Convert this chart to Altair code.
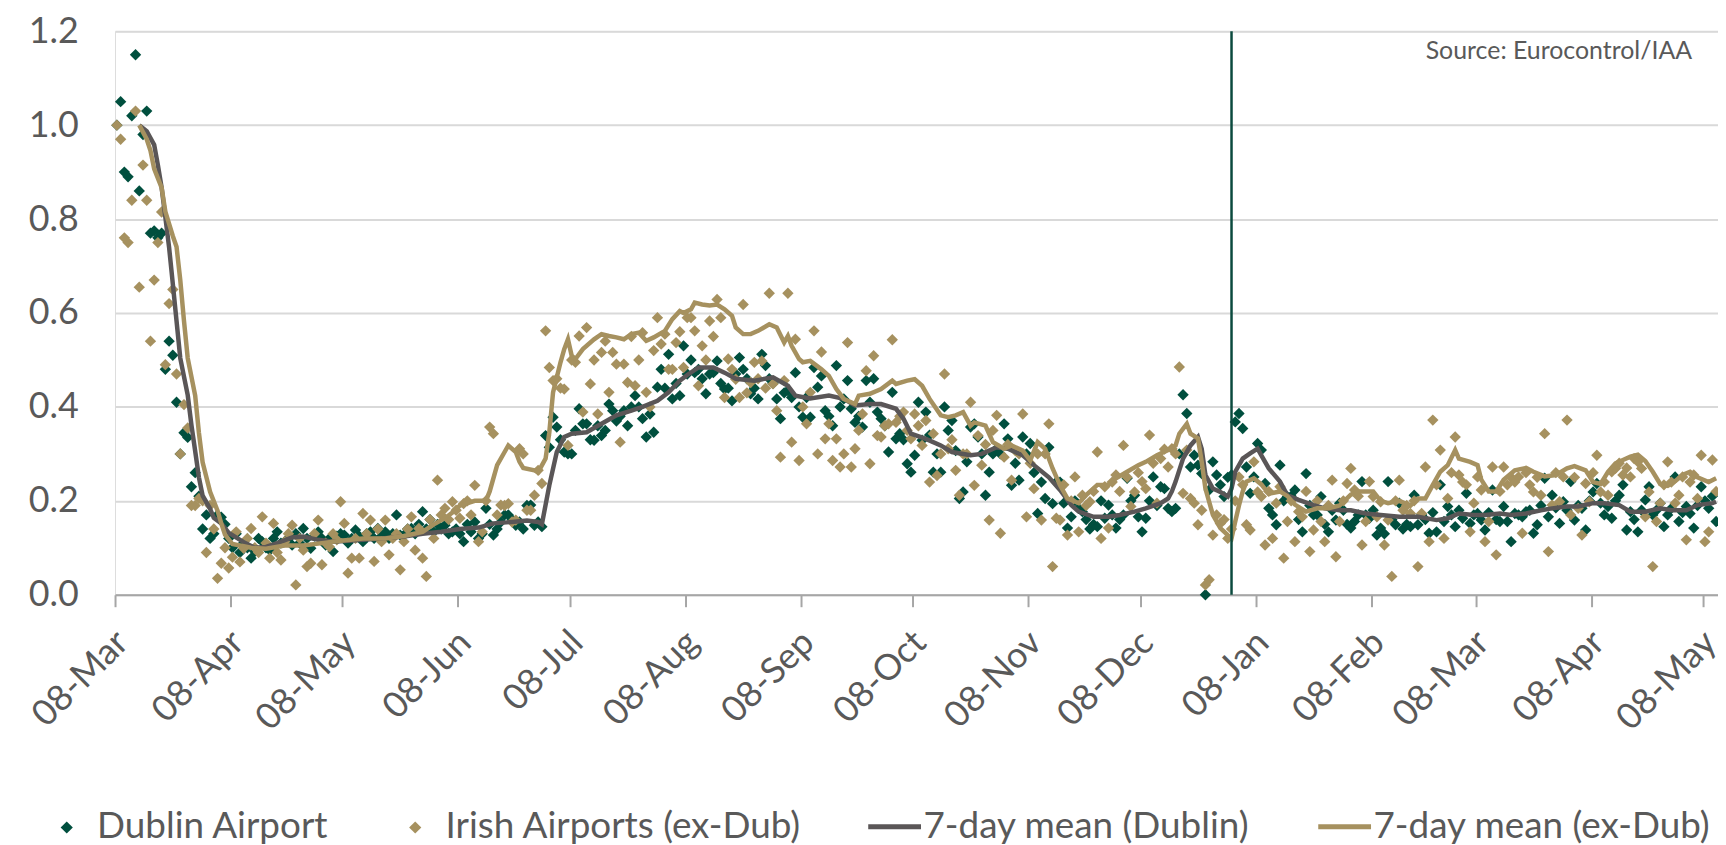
import altair as alt
import pandas as pd

# ---------------- data ----------------
# daily load factor vs 2019, day 0 = 08-Mar-2020
dublin_daily = [
    1.00, 1.05, 0.90, 0.89, 1.02, 1.15, 0.86,
    0.98, 1.03, 0.77, 0.775, 0.76, 0.77, 0.48,
    0.54, 0.51, 0.41, 0.30, 0.345, 0.335, 0.23,
    0.26, 0.21, 0.14, 0.17, 0.12, 0.13, 0.17,
    0.165, 0.15, 0.12, 0.10, 0.13, 0.09, 0.11,
    0.10, 0.078, 0.092, 0.12, 0.113, 0.10, 0.095,
    0.12, 0.134, 0.11, 0.113, 0.12, 0.106, 0.13,
    0.11, 0.141, 0.12, 0.099, 0.125, 0.134, 0.12,
    0.106, 0.12, 0.092, 0.125, 0.13, 0.127, 0.11,
    0.12, 0.138, 0.125, 0.113, 0.13, 0.134, 0.12,
    0.141, 0.125, 0.134, 0.12, 0.13, 0.17, 0.127,
    0.127, 0.14, 0.141, 0.13, 0.15, 0.177, 0.14,
    0.16, 0.134, 0.15, 0.14, 0.148, 0.13, 0.134,
    0.14, 0.13, 0.113, 0.15, 0.134, 0.155, 0.12,
    0.13, 0.184, 0.15, 0.127, 0.14, 0.155, 0.17,
    0.17, 0.16, 0.148, 0.155, 0.14, 0.19, 0.191,
    0.148, 0.155, 0.145, 0.339, 0.314, 0.378, 0.357,
    0.33, 0.304, 0.30, 0.30, 0.35, 0.396, 0.364,
    0.364, 0.33, 0.329, 0.36, 0.339, 0.35, 0.406,
    0.392, 0.37, 0.38, 0.392, 0.36, 0.40, 0.424,
    0.40, 0.375, 0.336, 0.385, 0.346, 0.442, 0.48,
    0.44, 0.512, 0.417, 0.45, 0.424, 0.53, 0.47,
    0.50, 0.473, 0.48, 0.46, 0.428, 0.47, 0.473,
    0.498, 0.45, 0.438, 0.44, 0.413, 0.47, 0.505,
    0.48, 0.46, 0.428, 0.44, 0.417, 0.512, 0.488,
    0.46, 0.45, 0.417, 0.375, 0.43, 0.435, 0.42,
    0.473, 0.40, 0.378, 0.42, 0.378, 0.484, 0.442,
    0.466, 0.392, 0.38, 0.36, 0.488, 0.40, 0.417,
    0.456, 0.396, 0.367, 0.38, 0.357, 0.456, 0.41,
    0.46, 0.389, 0.375, 0.36, 0.304, 0.431, 0.332,
    0.343, 0.33, 0.279, 0.261, 0.297, 0.41, 0.329,
    0.389, 0.34, 0.261, 0.30, 0.261, 0.40, 0.35,
    0.371, 0.307, 0.205, 0.219, 0.283, 0.357, 0.364,
    0.336, 0.30, 0.212, 0.261, 0.30, 0.311, 0.30,
    0.364, 0.332, 0.233, 0.28, 0.244, 0.336, 0.30,
    0.322, 0.26, 0.173, 0.24, 0.205, 0.314, 0.194,
    0.24, 0.24, 0.195, 0.142, 0.166, 0.20, 0.184,
    0.177, 0.16, 0.14, 0.15, 0.145, 0.20, 0.163,
    0.191, 0.17, 0.142, 0.16, 0.17, 0.248, 0.20,
    0.212, 0.166, 0.134, 0.163, 0.20, 0.251, 0.19,
    0.23, 0.226, 0.184, 0.177, 0.184, 0.30, 0.426,
    0.386, 0.272, 0.297, 0.276, 0.258, 0.0, 0.223,
    0.283, 0.255, 0.234, 0.209, 0.25, 0.255, 0.368,
    0.386, 0.354, 0.272, 0.216, 0.251, 0.322, 0.308,
    0.237, 0.184, 0.17, 0.149, 0.276, 0.20, 0.209,
    0.21, 0.223, 0.16, 0.134, 0.258, 0.19, 0.17,
    0.17, 0.209, 0.15, 0.134, 0.18, 0.159, 0.195,
    0.18, 0.15, 0.142, 0.156, 0.17, 0.241, 0.17,
    0.163, 0.18, 0.127, 0.142, 0.13, 0.241, 0.16,
    0.149, 0.195, 0.14, 0.15, 0.145, 0.212, 0.149,
    0.17, 0.16, 0.131, 0.175, 0.134, 0.234, 0.156,
    0.188, 0.17, 0.145, 0.18, 0.163, 0.216, 0.152,
    0.17, 0.173, 0.159, 0.138, 0.175, 0.223, 0.16,
    0.156, 0.188, 0.156, 0.113, 0.173, 0.17, 0.166,
    0.177, 0.18, 0.131, 0.149, 0.19, 0.248, 0.166,
    0.212, 0.185, 0.152, 0.198, 0.18, 0.241, 0.159,
    0.19, 0.184, 0.138, 0.20, 0.219, 0.237, 0.195,
    0.17, 0.188, 0.163, 0.20, 0.212, 0.234, 0.138,
    0.177, 0.16, 0.134, 0.18, 0.202, 0.23, 0.17,
    0.18, 0.195, 0.145, 0.17, 0.184, 0.251, 0.156,
    0.175, 0.188, 0.173, 0.142, 0.19, 0.23, 0.20,
    0.184, 0.21, 0.156,
]

exdub_daily = [
    1.00, 0.97, 0.76, 0.75, 0.84, 1.03, 0.655,
    0.915, 0.84, 0.54, 0.67, 0.75, 0.815, 0.49,
    0.62, 0.65, 0.47, 0.30, 0.405, 0.355, 0.19,
    0.19, 0.205, 0.20, 0.09, 0.19, 0.14, 0.035,
    0.067, 0.10, 0.057, 0.08, 0.134, 0.07, 0.099,
    0.12, 0.141, 0.10, 0.09, 0.166, 0.11, 0.078,
    0.152, 0.09, 0.074, 0.113, 0.13, 0.148, 0.021,
    0.12, 0.095, 0.06, 0.067, 0.13, 0.159, 0.064,
    0.11, 0.102, 0.13, 0.117, 0.198, 0.152, 0.046,
    0.078, 0.12, 0.078, 0.173, 0.13, 0.159, 0.071,
    0.14, 0.113, 0.159, 0.085, 0.12, 0.13, 0.053,
    0.113, 0.14, 0.166, 0.095, 0.141, 0.078, 0.039,
    0.16, 0.12, 0.244, 0.17, 0.184, 0.16, 0.198,
    0.18, 0.163, 0.194, 0.20, 0.17, 0.233, 0.113,
    0.134, 0.20, 0.357, 0.343, 0.17, 0.191, 0.19,
    0.194, 0.155, 0.159, 0.311, 0.30, 0.18, 0.18,
    0.212, 0.265, 0.237, 0.562, 0.484, 0.456, 0.46,
    0.44, 0.438, 0.318, 0.50, 0.495, 0.551, 0.389,
    0.569, 0.449, 0.50, 0.385, 0.516, 0.54, 0.431,
    0.516, 0.491, 0.325, 0.491, 0.452, 0.55, 0.445,
    0.50, 0.558, 0.431, 0.40, 0.52, 0.59, 0.534,
    0.555, 0.48, 0.48, 0.537, 0.56, 0.484, 0.59,
    0.59, 0.562, 0.445, 0.53, 0.50, 0.583, 0.55,
    0.629, 0.59, 0.42, 0.502, 0.48, 0.459, 0.42,
    0.618, 0.43, 0.452, 0.495, 0.46, 0.498, 0.44,
    0.642, 0.449, 0.392, 0.293, 0.456, 0.642, 0.325,
    0.544, 0.286, 0.40, 0.364, 0.431, 0.562, 0.30,
    0.517, 0.332, 0.364, 0.286, 0.332, 0.272, 0.30,
    0.537, 0.272, 0.311, 0.35, 0.385, 0.477, 0.279,
    0.509, 0.339, 0.336, 0.36, 0.364, 0.543, 0.367,
    0.38, 0.389, 0.35, 0.332, 0.385, 0.36, 0.318,
    0.371, 0.24, 0.343, 0.254, 0.30, 0.47, 0.311,
    0.33, 0.265, 0.212, 0.30, 0.30, 0.41, 0.233,
    0.339, 0.276, 0.32, 0.159, 0.35, 0.382, 0.131,
    0.293, 0.32, 0.244, 0.307, 0.30, 0.385, 0.166,
    0.28, 0.226, 0.30, 0.159, 0.30, 0.364, 0.06,
    0.163, 0.159, 0.234, 0.127, 0.20, 0.251, 0.134,
    0.212, 0.19, 0.198, 0.22, 0.304, 0.12, 0.23,
    0.142, 0.24, 0.255, 0.22, 0.318, 0.25, 0.188,
    0.219, 0.26, 0.241, 0.226, 0.34, 0.28, 0.195,
    0.29, 0.31, 0.272, 0.311, 0.30, 0.485, 0.216,
    0.308, 0.205, 0.195, 0.149, 0.18, 0.021, 0.032,
    0.127, 0.17, 0.152, 0.16, 0.12, 0.14, 0.20,
    0.251, 0.234, 0.149, 0.138, 0.283, 0.219, 0.209,
    0.106, 0.22, 0.12, 0.195, 0.23, 0.078, 0.156,
    0.20, 0.113, 0.177, 0.166, 0.22, 0.092, 0.138,
    0.20, 0.156, 0.113, 0.19, 0.244, 0.081, 0.156,
    0.20, 0.237, 0.269, 0.223, 0.21, 0.106, 0.156,
    0.241, 0.209, 0.166, 0.198, 0.106, 0.159, 0.039,
    0.20, 0.244, 0.18, 0.19, 0.173, 0.20, 0.06,
    0.173, 0.272, 0.113, 0.372, 0.234, 0.308, 0.12,
    0.205, 0.26, 0.336, 0.255, 0.24, 0.234, 0.134,
    0.195, 0.251, 0.223, 0.113, 0.156, 0.272, 0.085,
    0.22, 0.272, 0.234, 0.25, 0.24, 0.251, 0.131,
    0.26, 0.234, 0.219, 0.25, 0.212, 0.343, 0.092,
    0.191, 0.26, 0.198, 0.251, 0.372, 0.17, 0.25,
    0.184, 0.127, 0.237, 0.198, 0.26, 0.297, 0.219,
    0.24, 0.212, 0.262, 0.269, 0.28, 0.255, 0.27,
    0.251, 0.29, 0.283, 0.269, 0.166, 0.219, 0.06,
    0.156, 0.195, 0.234, 0.283, 0.24, 0.195, 0.212,
    0.251, 0.117, 0.24, 0.255, 0.205, 0.297, 0.113,
    0.134, 0.287, 0.22,
]

# 7-day means (day offset, value)
dub_mean_day = [6, 8, 10, 11, 12, 13, 14, 15, 16, 17, 19, 20, 21, 22, 23, 25, 26, 28, 30, 34,
                37, 40, 43, 47, 50, 54, 58, 62, 66, 71, 77, 82, 87, 92, 97, 101, 106, 110, 113, 114,
                116, 118, 120, 122, 126, 130, 134, 138, 141, 145, 148, 151, 153, 156, 160, 163, 166, 171, 176, 180,
                182, 186, 191, 195, 198, 202, 205, 209, 211, 213, 217, 221, 224, 229, 232, 236, 239, 243, 246, 250,
                253, 256, 258, 262, 266, 269, 273, 276, 280, 282, 283, 284, 286, 288, 290, 291, 292, 294, 296, 298,
                299, 300, 302, 304, 306, 307, 309, 312, 314, 317, 321, 324, 328, 331, 335, 339, 344, 349, 354, 357,
                360, 364, 367, 371, 374, 378, 382, 385, 389, 392, 396, 399, 403, 406, 410, 414, 417, 421, 424, 428,
                429]
dub_mean_val = [1.00, 0.987, 0.958, 0.915, 0.867, 0.804, 0.74, 0.662, 0.583, 0.504, 0.425, 0.361, 0.306, 0.25, 0.211, 0.183, 0.164, 0.152, 0.132, 0.112,
                0.10, 0.102, 0.11, 0.122, 0.124, 0.117, 0.113, 0.115, 0.117, 0.12, 0.124, 0.13, 0.134, 0.14, 0.143, 0.152, 0.155, 0.158, 0.155, 0.15,
                0.233, 0.304, 0.336, 0.343, 0.346, 0.364, 0.382, 0.392, 0.40, 0.413, 0.431, 0.456, 0.468, 0.484, 0.484, 0.473, 0.46, 0.456, 0.463, 0.445,
                0.424, 0.418, 0.424, 0.417, 0.403, 0.406, 0.406, 0.396, 0.375, 0.343, 0.332, 0.318, 0.304, 0.297, 0.30, 0.314, 0.311, 0.297, 0.276, 0.25,
                0.223, 0.191, 0.177, 0.166, 0.166, 0.17, 0.177, 0.184, 0.195, 0.205, 0.22, 0.241, 0.29, 0.318, 0.336, 0.311, 0.255, 0.226, 0.219, 0.209,
                0.226, 0.262, 0.29, 0.301, 0.311, 0.297, 0.269, 0.241, 0.212, 0.202, 0.191, 0.184, 0.18, 0.18, 0.173, 0.17, 0.166, 0.166, 0.159, 0.163,
                0.173, 0.17, 0.17, 0.173, 0.17, 0.173, 0.18, 0.184, 0.188, 0.188, 0.195, 0.195, 0.191, 0.177, 0.177, 0.184, 0.18, 0.18, 0.191, 0.195,
                0.198]

exd_mean_day = [6, 8, 9, 10, 12, 13, 15, 16, 17, 18, 19, 21, 22, 23, 25, 27, 28, 29, 31, 36,
                40, 45, 50, 55, 60, 66, 72, 77, 82, 85, 88, 90, 92, 96, 99, 100, 102, 104, 105, 107,
                108, 109, 112, 113, 115, 116, 117, 119, 120, 121, 122, 123, 125, 128, 130, 132, 134, 136, 138, 140,
                142, 144, 147, 149, 151, 152, 154, 155, 157, 159, 161, 163, 165, 166, 168, 170, 172, 175, 177, 179,
                180, 181, 183, 184, 186, 189, 191, 193, 195, 198, 199, 202, 205, 208, 209, 212, 214, 216, 218, 221,
                223, 225, 227, 229, 230, 233, 235, 238, 240, 243, 245, 247, 249, 251, 253, 255, 258, 260, 263, 266,
                268, 271, 274, 276, 279, 282, 284, 285, 287, 288, 290, 291, 292, 294, 296, 298, 299, 300, 301, 302,
                303, 305, 307, 309, 312, 314, 316, 319, 322, 325, 328, 331, 333, 335, 337, 339, 341, 344, 347, 349,
                351, 353, 355, 357, 359, 360, 363, 365, 366, 368, 370, 372, 375, 378, 380, 383, 386, 389, 391, 394,
                396, 398, 400, 402, 404, 406, 408, 410, 412, 414, 416, 418, 420, 422, 424, 427, 429]
exd_mean_val = [1.00, 0.97, 0.946, 0.907, 0.867, 0.816, 0.764, 0.741, 0.67, 0.583, 0.504, 0.424, 0.345, 0.282, 0.219, 0.179, 0.152, 0.128, 0.108, 0.10,
                0.098, 0.105, 0.105, 0.11, 0.115, 0.12, 0.12, 0.125, 0.134, 0.15, 0.163, 0.175, 0.19, 0.20, 0.20, 0.22, 0.276, 0.304, 0.318, 0.304,
                0.283, 0.27, 0.265, 0.261, 0.29, 0.346, 0.431, 0.495, 0.523, 0.544, 0.509, 0.502, 0.523, 0.544, 0.555, 0.551, 0.548, 0.544, 0.555, 0.558,
                0.541, 0.548, 0.562, 0.587, 0.604, 0.60, 0.608, 0.622, 0.618, 0.616, 0.618, 0.608, 0.594, 0.569, 0.555, 0.555, 0.562, 0.576, 0.569, 0.537,
                0.551, 0.53, 0.502, 0.495, 0.498, 0.48, 0.466, 0.438, 0.417, 0.406, 0.424, 0.428, 0.438, 0.456, 0.449, 0.456, 0.459, 0.445, 0.417, 0.382,
                0.378, 0.382, 0.389, 0.36, 0.367, 0.36, 0.325, 0.311, 0.318, 0.307, 0.286, 0.325, 0.311, 0.269, 0.233, 0.205, 0.195, 0.212, 0.234, 0.234,
                0.248, 0.262, 0.276, 0.283, 0.297, 0.308, 0.318, 0.343, 0.364, 0.343, 0.333, 0.283, 0.226, 0.17, 0.142, 0.127, 0.12, 0.156, 0.19, 0.22,
                0.241, 0.248, 0.235, 0.215, 0.22, 0.21, 0.192, 0.177, 0.184, 0.184, 0.19, 0.213, 0.22, 0.22, 0.22, 0.20, 0.195, 0.20, 0.19, 0.205,
                0.205, 0.234, 0.262, 0.276, 0.308, 0.29, 0.283, 0.276, 0.245, 0.22, 0.22, 0.245, 0.265, 0.27, 0.262, 0.252, 0.255, 0.269, 0.274, 0.265,
                0.24, 0.236, 0.262, 0.28, 0.287, 0.294, 0.298, 0.285, 0.262, 0.236, 0.232, 0.242, 0.255, 0.262, 0.25, 0.24, 0.248]

point_series = ["Dublin Airport", "Irish Airports (ex-Dub)"]
point_colors = ["#004F3E", "#A6915F"]
mean_series = ["7-day mean (Dublin)", "7-day mean (ex-Dub)"]
mean_colors = ["#5A5657", "#A6915F"]
tick_months = [(2020, m) for m in range(3, 13)] + [(2021, m) for m in range(1, 6)]
y_ticks = [0.0, 0.2, 0.4, 0.6, 0.8, 1.0, 1.2]
source_note = "Source: Eurocontrol/IAA"

# ---------------- build tables ----------------
start = pd.Timestamp("2020-03-08 12:00:00")


def day_to_str(d):
    return (start + pd.Timedelta(days=int(d))).strftime("%Y-%m-%dT%H:%M:%S")


pts = pd.concat([
    pd.DataFrame({"date": [day_to_str(i) for i in range(len(dublin_daily))],
                  "value": dublin_daily, "series": point_series[0]}),
    pd.DataFrame({"date": [day_to_str(i) for i in range(len(exdub_daily))],
                  "value": exdub_daily, "series": point_series[1]}),
], ignore_index=True)

means = pd.concat([
    pd.DataFrame({"date": [day_to_str(d) for d in dub_mean_day],
                  "value": dub_mean_val, "series": mean_series[0]}),
    pd.DataFrame({"date": [day_to_str(d) for d in exd_mean_day],
                  "value": exd_mean_val, "series": mean_series[1]}),
], ignore_index=True)

FONT = "Lato"
GREY = "#595959"

x_scale = alt.Scale(domain=[alt.DateTime(year=2020, month=3, date=8),
                            alt.DateTime(year=2021, month=5, date=12)])
y_scale = alt.Scale(domain=[0, 1.2], nice=False)

x_axis = alt.Axis(values=[alt.DateTime(year=y, month=m, date=8) for y, m in tick_months],
                  format="%d-%b", labelAngle=-45, labelAlign="right", labelBaseline="middle",
                  labelFont=FONT, labelFontSize=36, labelColor=GREY, labelPadding=30,
                  labelOffset=7, labelOverlap=False, labelFlush=False, tickSize=12, tickWidth=2,
                  tickColor="#A6A6A6", domainColor="#A6A6A6", domainWidth=2,
                  grid=False, title=None)
y_axis = alt.Axis(values=y_ticks, format=".1f", labelFont=FONT, labelFontSize=36,
                  labelColor=GREY, labelPadding=37, ticks=False, domain=False,
                  gridColor="#D9D9D9", gridWidth=2, title=None)

points = alt.Chart(pts).mark_point(shape="diamond", filled=True, size=130, opacity=1).encode(
    x=alt.X("date:T", scale=x_scale, axis=x_axis),
    y=alt.Y("value:Q", scale=y_scale, axis=y_axis),
    color=alt.Color("series:N",
                    scale=alt.Scale(domain=point_series, range=point_colors),
                    legend=alt.Legend(title=None, orient="none", legendX=-67, legendY=781,
                                      direction="horizontal", symbolType="diamond",
                                      symbolSize=150, symbolStrokeWidth=0,
                                      labelFont=FONT, labelFontSize=37, labelColor=GREY,
                                      labelOffset=12, columnPadding=68, labelLimit=900,
                                      padding=0)),
)

lines = alt.Chart(means).mark_line(strokeWidth=4.5).encode(
    x=alt.X("date:T"),
    y=alt.Y("value:Q"),
    stroke=alt.Stroke("series:N",
                      scale=alt.Scale(domain=mean_series, range=mean_colors),
                      legend=alt.Legend(title=None, orient="none", legendX=754, legendY=770,
                                        direction="horizontal", symbolType="stroke",
                                        symbolSize=2809, symbolStrokeWidth=5,
                                        labelFont=FONT, labelFontSize=37, labelColor=GREY,
                                        labelOffset=0, columnPadding=58, labelLimit=900,
                                        padding=0)),
)

vline = alt.Chart(pd.DataFrame({"d": ["2021-01-01T12:00:00"]})).mark_rule(
    color="#0B4A3E", strokeWidth=2.5).encode(x=alt.X("d:T"))

note = alt.Chart(pd.DataFrame({"t": [source_note]})).mark_text(
    font=FONT, fontSize=25, color=GREY, align="right", baseline="alphabetic").encode(
    text="t:N", x=alt.value(1584), y=alt.value(28))

chart = alt.layer(points, lines, vline, note).properties(
    width=1610, height=566,
    padding={"left": 107.5, "top": 21.5, "right": 0, "bottom": 248},
    autosize=alt.AutoSizeParams(type="none"),
).configure_view(stroke=None).configure(background="white")

chart.save("out.html", embed_options={"renderer": "svg", "actions": False})
